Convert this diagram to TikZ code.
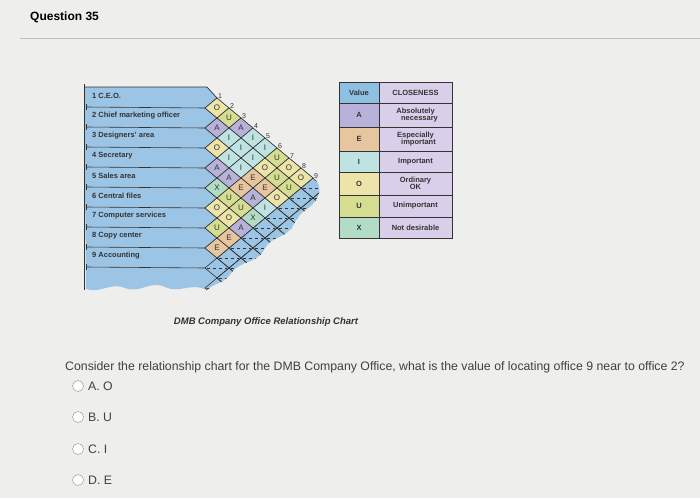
\documentclass[tikz,border=0pt]{standalone}
\usepackage{fontspec}
\setmainfont{Liberation Sans}
\definecolor{bg}{HTML}{EEEEEC}
\definecolor{cA}{HTML}{B8B2DA}
\definecolor{cE}{HTML}{E6C69E}
\definecolor{cI}{HTML}{BFE2E2}
\definecolor{cO}{HTML}{ECE4A8}
\definecolor{cU}{HTML}{D4DD90}
\definecolor{cX}{HTML}{B2DCC6}
\definecolor{cH}{HTML}{8EC0E2}
\definecolor{cL}{HTML}{D9CFEA}
\definecolor{panel}{HTML}{9CC4E4}
\definecolor{ink}{HTML}{333333}
\tikzset{
 lbl/.style={font=\fontsize{7.5}{8}\selectfont\bfseries, text=ink, anchor=west, inner sep=0},
 cellL/.style={font=\fontsize{8}{8}\selectfont, text=ink, inner sep=0},
 num/.style={font=\fontsize{7}{7}\selectfont, text=ink, inner sep=0},
 tab/.style={draw=ink, line width=0.6pt},
 tabt/.style={font=\fontsize{7.5}{7.5}\selectfont\bfseries, text=ink, align=center, inner sep=0},
 opt/.style={font=\fontsize{12.3}{14}\selectfont, text=black!75, anchor=west, inner sep=0},
 radio/.style={draw=black!45, circle, minimum size=11pt, inner sep=0, fill=white}
}
\newcommand{\rhomb}[2]{(#1-12,#2)--(#1,#2-10)--(#1+12,#2)--(#1,#2+10)--cycle}
\begin{document}
\begin{tikzpicture}[x=1pt,y=-1pt]
\fill[bg] (0,0) rectangle (700,498);
\useasboundingbox (0,0) rectangle (700,498);
\node[font=\fontsize{12}{14}\selectfont\bfseries, anchor=west, inner sep=0] (q) at (30,17) {Question 35};
\draw[black!25, line width=0.8pt] (20,38) -- (700,38);
% panel
\def\panelpath{(84,87) -- (207,87) -- (217,98) -- (313,178) .. controls (322,184) and (320,194) .. (316,200) .. controls (308,212) and (302,208) .. (294,224) .. controls (286,240) and (272,234) .. (264,250) .. controls (256,264) and (242,260) .. (232,272) .. controls (224,284) and (216,282) .. (207,290) .. controls (190,282) and (180,294) .. (165,287) .. controls (150,280) and (140,294) .. (125,288) .. controls (110,282) and (100,294) .. (86,289) -- cycle}
\fill[panel] \panelpath;
\draw[ink, line width=0.7pt] (84,87) -- (207,87) -- (217,98);
\draw[ink, line width=1pt] (84,84) -- (84,290);
\begin{scope}
\clip \panelpath;
\foreach \k in {0,...,9}{
  \foreach \m in {0,...,22}{
    \pgfmathtruncatemacro{\parity}{mod(\k+\m,2)}
    \ifnum\parity=0
      \pgfmathsetmacro{\cx}{217+12*\k}
      \pgfmathsetmacro{\cy}{108+10*\m}
      \draw[ink, line width=0.6pt] \rhomb{\cx}{\cy};
      \draw[ink, dashed, line width=0.4pt] (\cx-10,\cy) -- (\cx+10,\cy);
    \fi
  }
}
\end{scope}
% labels and lines
\foreach \i/\t in {1/1 C.E.O., 2/2 Chief marketing officer, 3/3 Designers' area, 4/4 Secretary, 5/5 Sales area, 6/6 Central files, 7/7 Computer services, 8/8 Copy center, 9/9 Accounting}{
  \node[lbl] (l\i) at (92,{96+20*(\i-1)}) {\t};
  \draw[ink, line width=0.6pt] (86,{107+20*(\i-1)}) -- (205,{108+20*(\i-1)});
  \draw[ink, line width=0.6pt] (86,{104+20*(\i-1)}) -- (86,{110+20*(\i-1)});
  \node[num] (n\i) at ({208+12*\i},{86+10*\i}) {\i};
}
% filled cells
\foreach \i/\j/\L in {1/2/O,1/3/U,1/4/A,1/5/I,1/6/I,1/7/U,1/8/O,1/9/O,
 2/3/A,2/4/I,2/5/I,2/6/I,2/7/O,2/8/U,2/9/U,
 3/4/O,3/5/I,3/6/I,3/7/E,3/8/E,3/9/O,
 4/5/A,4/6/A,4/7/E,4/8/A,4/9/I,
 5/6/X,5/7/U,5/8/U,5/9/X,
 6/7/O,6/8/O,6/9/A,
 7/8/U,7/9/E,
 8/9/E}{
  \pgfmathsetmacro{\cx}{217+12*(\j-\i-1)}
  \pgfmathsetmacro{\cy}{108+10*(\i+\j-3)}
  \filldraw[fill=c\L, draw=ink, line width=0.6pt] \rhomb{\cx}{\cy};
  \node[cellL] (c\i\j) at (\cx,\cy) {\L};
}
% legend table
\foreach \y/\ny/\c/\v/\t in {82/103/cH/Value/CLOSENESS,103/127/cA/A/Absolutely\\[-1pt]\hspace*{8pt}necessary,127/151/cE/E/Especially\\[-1pt]\hspace*{6pt}important,151/172/cI/I/Important,172/195/cO/O/Ordinary\\[-1pt]OK,195/217/cU/U/Unimportant,217/238/cX/X/Not desirable}{
  \fill[\c] (339,\y) rectangle (379,\ny);
  \fill[cL] (379,\y) rectangle (452,\ny);
  \node[tabt] (v\v) at (359,{(\y+\ny)/2}) {\v};
  \node[tabt] (d\v) at (415.5,{(\y+\ny)/2}) {\t};
}
\draw[tab] (339,82) rectangle (452,238);
\draw[tab] (379,82) -- (379,238);
\foreach \y in {103,127,151,172,195,217}{\draw[tab] (339,\y) -- (452,\y);}
% caption
\node[font=\fontsize{9.5}{11}\selectfont\bfseries\itshape, text=ink, inner sep=0] (cap) at (266,322) {DMB Company Office Relationship Chart};
\node[opt] (qt) at (65,367) {Consider the relationship chart for the DMB Company Office, what is the value of locating office 9 near to office 2?};
\foreach \n/\y/\t in {a/386/A. O, b/417/B. U, c/449/C. I, d/480/D. E}{
  \node[radio] (r\n) at (78,\y) {};
  \node[opt] (o\n) at (88,\y) {\t};
}
\end{tikzpicture}
\end{document}
